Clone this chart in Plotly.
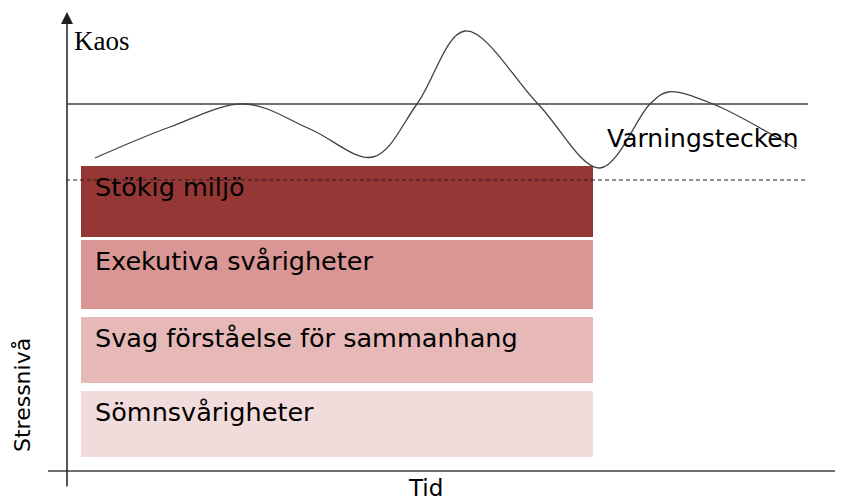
import plotly.graph_objects as go

# ---- data (time units, stress units) ----
curve_time = [28, 103, 178, 243, 306, 350, 398, 471, 533, 583, 601, 646, 729]
curve_stress = [313, 344, 367, 342, 314, 367, 440, 367, 303, 367, 379, 367, 322]

layer_names = ["Sömnsvårigheter", "Svag förståelse för sammanhang",
               "Exekutiva svårigheter", "Stökig miljö"]
layer_base = [14, 88, 162, 234]
layer_height = [66, 66, 69, 71]
layer_colors = ["#f2dcdb", "#e6b9b8", "#d99694", "#953735"]
bar_center = 270
bar_width = 512

chaos_level = 367      # "Kaos" threshold (solid)
warning_level = 291    # "Varningstecken" threshold (dashed)
line_start, line_end = 0, 741

fig = go.Figure()

for name, b, h, c in zip(layer_names, layer_base, layer_height, layer_colors):
    fig.add_trace(go.Bar(x=[bar_center], y=[h], base=[b], width=[bar_width],
                         marker=dict(color=c, line=dict(width=0)),
                         name=name, hoverinfo="skip", showlegend=False))
    fig.add_annotation(x=14 + 12, y=b + h - 21, text=name, showarrow=False,
                       xanchor="left", yanchor="middle",
                       font=dict(family="DejaVu Sans", size=25.5, color="#000000"))

fig.add_trace(go.Scatter(x=[line_start, line_end], y=[chaos_level, chaos_level],
                         mode="lines", line=dict(color="#404040", width=1.3),
                         hoverinfo="skip", showlegend=False))
fig.add_trace(go.Scatter(x=[line_start - 1, line_end], y=[warning_level, warning_level],
                         mode="lines", line=dict(color="#202020", width=1.2, dash="4px,3px"),
                         hoverinfo="skip", showlegend=False))
fig.add_trace(go.Scatter(x=curve_time, y=curve_stress, mode="lines",
                         line=dict(color="#404040", width=1.3, shape="spline", smoothing=1),
                         hoverinfo="skip", showlegend=False))

# axes with arrow
fig.add_shape(type="line", x0=-19, x1=776, y0=0, y1=0,
              line=dict(color="#404040", width=1.5))
fig.add_annotation(x=0, y=459, ax=0, ay=-17, xref="x", yref="y", axref="x", ayref="y",
                   showarrow=True, arrowhead=2, arrowsize=1.6, arrowwidth=1.5,
                   arrowcolor="#202020", text="")

fig.add_annotation(x=5, y=430, text="Kaos", showarrow=False, xanchor="left", yanchor="middle",
                   font=dict(family="Liberation Serif", size=27, color="#000000"))
fig.add_annotation(x=538, y=333, text="Varningstecken", showarrow=False, xanchor="left",
                   yanchor="middle", font=dict(family="DejaVu Sans", size=25, color="#000000"))
fig.add_annotation(x=0.5, y=0, xref="paper", yref="paper", text="Tid", showarrow=False,
                   xanchor="center", yanchor="bottom", xshift=-0, borderpad=0,
                   font=dict(family="DejaVu Sans", size=23, color="#000000"))
fig.add_annotation(x=-45, y=76, text="Stressnivå", showarrow=False, textangle=-90,
                   xanchor="center", yanchor="middle",
                   font=dict(family="DejaVu Sans", size=22, color="#000000"))

# the page body adds an 8px offset, so the figure is 8px smaller on each side
fig.update_layout(
    width=835, height=494, margin=dict(l=0, r=0, t=0, b=0),
    paper_bgcolor="white", plot_bgcolor="white", barmode="overlay",
    xaxis=dict(range=[-59, 776], visible=False, fixedrange=True),
    yaxis=dict(range=[-31, 463], visible=False, fixedrange=True),
)

fig.write_html("out.html")
